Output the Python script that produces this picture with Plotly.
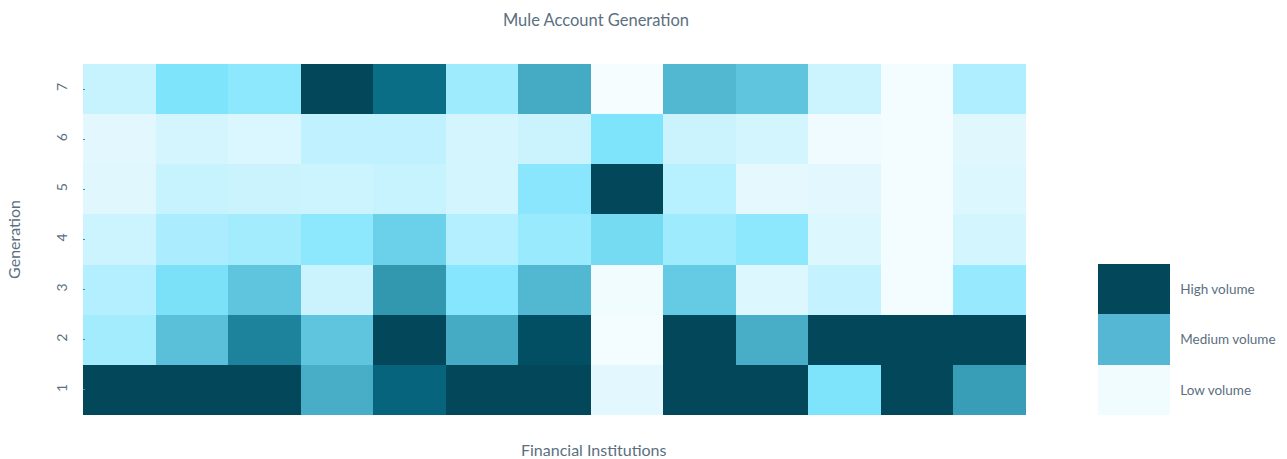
import plotly.graph_objects as go

institutions = [f"FI {i}" for i in range(1, 14)]
generations = ["1", "2", "3", "4", "5", "6", "7"]

# volume index per generation (rows: generation 1..7), columns: institutions 1..13
gen1 = [100, 100, 100, 59, 84, 100, 100, 9, 100, 100, 40, 100, 65]
gen2 = [28, 52, 74, 50, 100, 60, 95, 1, 100, 59, 100, 100, 100]
gen3 = [24, 41, 50, 18, 67, 37, 55, 2, 48, 11, 20, 1, 31]
gen4 = [17, 26, 28, 34, 46, 24, 30, 43, 29, 34, 11, 1, 15]
gen5 = [10, 19, 18, 17, 19, 15, 36, 100, 23, 8, 9, 1, 11]
gen6 = [9, 14, 12, 21, 21, 14, 18, 40, 18, 15, 3, 1, 10]
gen7 = [19, 40, 34, 100, 80, 29, 60, 0, 55, 50, 17, 1, 25]

legend_labels = ["Low volume", "Medium volume", "High volume"]
legend_colors = ["#f0fcfe", "#55b7d3", "#02475a"]

z = [gen1, gen2, gen3, gen4, gen5, gen6, gen7]

scale = [
    [0.00, "#f5fdff"],
    [0.10, "#e0f7fe"],
    [0.20, "#c4f2fe"],
    [0.30, "#9aeafe"],
    [0.40, "#7de4fc"],
    [0.50, "#5fc5de"],
    [0.60, "#45aac4"],
    [0.70, "#2a90a8"],
    [0.80, "#0a6e87"],
    [0.90, "#02566e"],
    [1.00, "#02475a"],
]

font_family = "Lato, 'Open Sans', sans-serif"
text_color = "#5b6f7f"

fig = go.Figure()
fig.add_trace(go.Heatmap(
    z=z, x=institutions, y=generations,
    zmin=0, zmax=100, colorscale=scale, showscale=False,
    xgap=0, ygap=0,
))

# discrete legend bar
disc_scale = []
n = len(legend_colors)
for i, c in enumerate(legend_colors):
    disc_scale.append([i / n, c])
    disc_scale.append([(i + 1) / n, c])

fig.add_trace(go.Scatter(
    x=[None], y=[None], mode="markers", showlegend=False, hoverinfo="skip",
    marker=dict(
        color=[0], cmin=0, cmax=n, colorscale=disc_scale, showscale=True,
        colorbar=dict(
            tickvals=[i + 0.5 for i in range(n)], ticktext=legend_labels,
            x=(1098 - 83) / 943, xanchor="left", xpad=0,
            y=0, yanchor="bottom", ypad=0,
            thickness=72, thicknessmode="pixels",
            len=151, lenmode="pixels",
            outlinewidth=0, ticks="outside", ticklen=8, tickcolor="rgba(0,0,0,0)",
            tickfont=dict(family=font_family, size=13.5, color=text_color),
        ),
    ),
))

fig.add_annotation(
    text="Financial Institutions", xref="paper", yref="paper",
    x=(594 - 83) / 943, y=-(449 - 415) / 351, xanchor="center", yanchor="middle",
    showarrow=False, font=dict(size=16, color=text_color, family=font_family),
)

fig.update_layout(
    width=1287, height=459,
    margin=dict(l=83, r=261, t=64, b=44, autoexpand=False),
    paper_bgcolor="white", plot_bgcolor="white",
    font=dict(family=font_family, color=text_color, size=13),
    title=dict(text="Mule Account Generation", x=596 / 1287, xanchor="center",
               y=1 - 20 / 459, yanchor="middle",
               font=dict(size=16.5, color=text_color, family=font_family)),
    xaxis=dict(showticklabels=False, ticks="", showgrid=False, zeroline=False, automargin=False),
    yaxis=dict(showgrid=False, zeroline=False, ticks="inside", ticklen=2, tickcolor="#1e9cc0",
               automargin=False, tickangle=-90, ticklabelstandoff=12,
               tickfont=dict(size=14, color=text_color),
               title=dict(text="Generation", standoff=28, font=dict(size=16, color=text_color))),
)

fig.write_html("out.html", config={"displayModeBar": False},
               post_script="document.body.style.margin='0px';")
